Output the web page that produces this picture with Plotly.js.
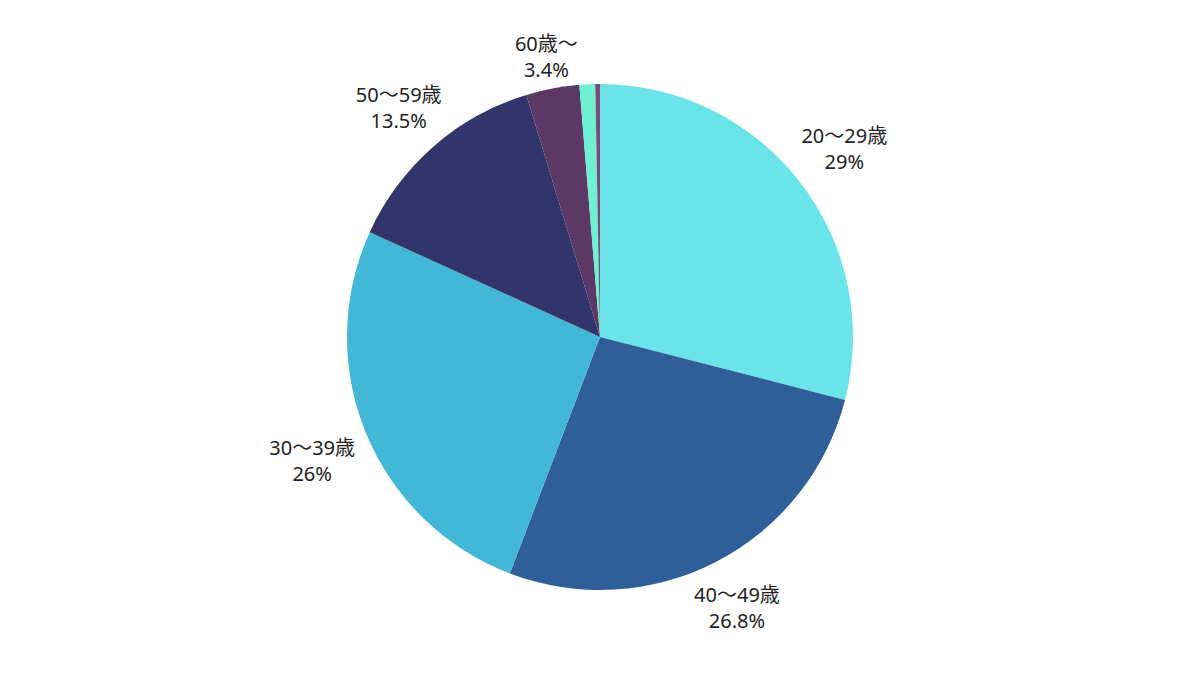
<!DOCTYPE html>
<html><head><meta charset="utf-8">
<script src="https://cdn.plot.ly/plotly-3.0.1.min.js"></script>
<style>html,body{margin:0;padding:0;background:#fff}</style>
</head><body>
<div id="chart" style="width:1200px;height:675px"></div>
<script>
const labels = ["20〜29歳", "40〜49歳", "30〜39歳", "50〜59歳", "60歳〜", "その他", "不明"];
const values = [29, 26.8, 26, 13.5, 3.4, 1.0, 0.3];
const colors = ["#6ae4e8", "#2e5f98", "#43b7d6", "#31356b", "#5c3866", "#6ef0d2", "#7d4a78"];
const showText = [true, true, true, true, true, false, false];

// layout constants (pixels)
const W = 1200, H = 675, ML = 40, MR = 40, MT = 84, MB = 85;
const plotW = W - ML - MR, plotH = H - MT - MB;
const R = Math.min(plotW, plotH) / 2;
const CX = ML + plotW / 2, CY = MT + plotH / 2;   // pie centre, px from top-left
const FS = 20;

const total = values.reduce((a, b) => a + b, 0);
const tx = [], ty = [], tt = [];
let cum = 0;
values.forEach((v, i) => {
  const mid = (cum + v / 2) / total * 2 * Math.PI;
  cum += v;
  if (!showText[i]) return;
  const s = Math.sin(mid), c = Math.cos(mid);
  const d = R + 3 + 21 * Math.abs(c) + 51 * Math.abs(s);
  tx.push(d * s);
  ty.push(d * c - (c < 0 ? 5 : 0) - 3);
  tt.push(labels[i] + "<br>" + (Math.round(v / total * 1000) / 10) + "%");
});

const textStyle = {family: "Noto Sans, Noto Sans CJK JP, sans-serif", size: FS, color: "#222"};

Plotly.newPlot("chart", [{
  type: "pie",
  labels: labels,
  values: values,
  sort: false,
  direction: "clockwise",
  rotation: 0,
  domain: {x: [ML / W, 1 - MR / W], y: [MB / H, 1 - MT / H]},
  marker: {colors: colors, line: {width: 0}},
  textinfo: "none",
  hoverinfo: "none",
  showlegend: false
}, {
  type: "scatter", mode: "text", x: tx, y: ty, text: tt,
  textposition: "middle center", textfont: textStyle,
  cliponaxis: false, hoverinfo: "none", showlegend: false
}], {
  width: W, height: H,
  margin: {t: 0, b: 0, l: 0, r: 0},
  font: textStyle,
  paper_bgcolor: "#fff",
  plot_bgcolor: "rgba(0,0,0,0)",
  xaxis: {range: [-CX, W - CX], visible: false, fixedrange: true},
  yaxis: {range: [-(H - CY), CY], visible: false, fixedrange: true},
  showlegend: false
}, {displayModeBar: false, staticPlot: true});
</script>
</body></html>
